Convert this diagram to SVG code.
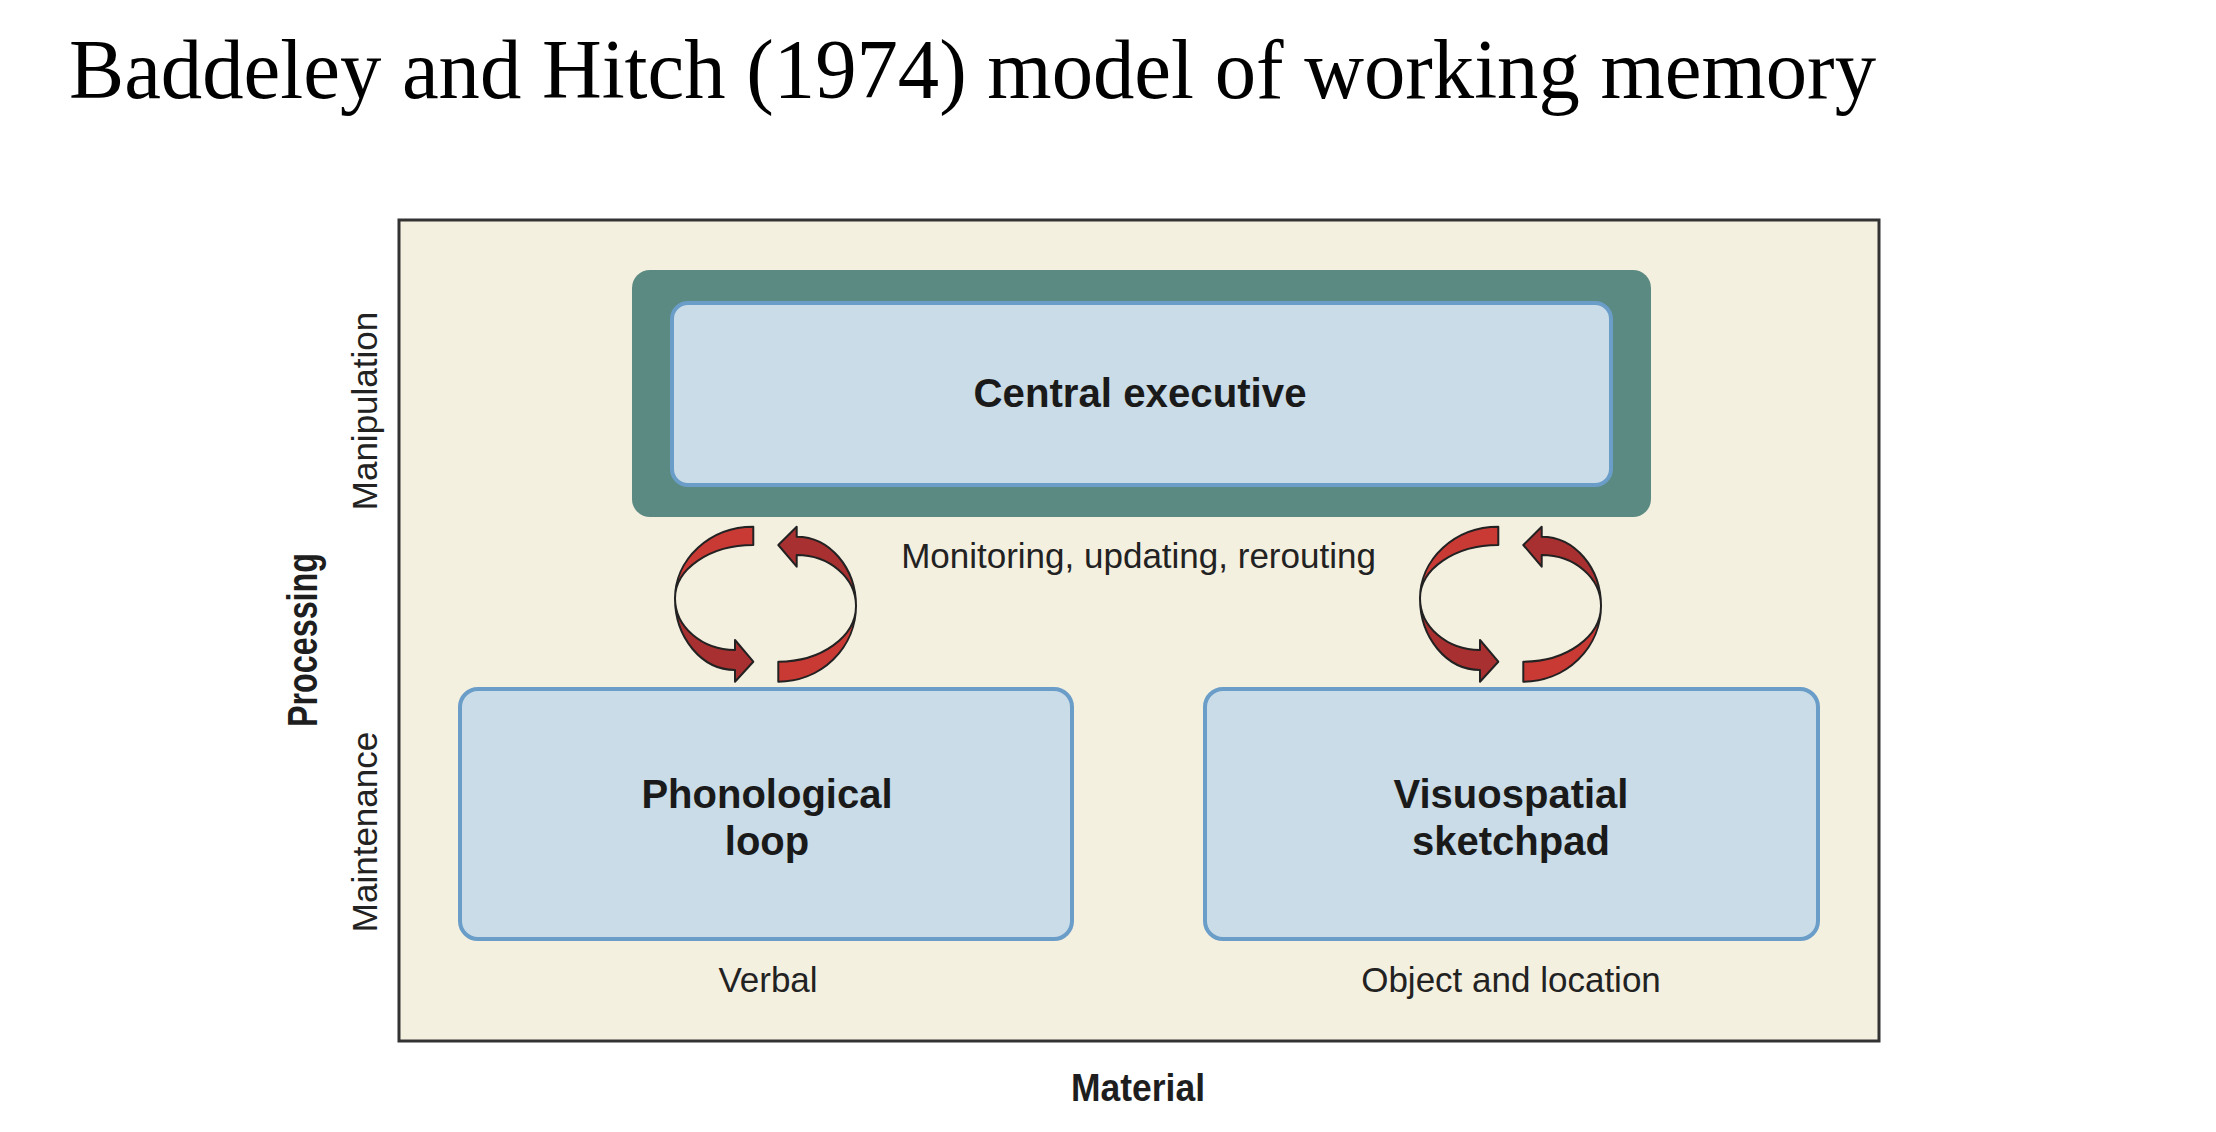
<svg xmlns="http://www.w3.org/2000/svg" width="2216" height="1132" viewBox="0 0 2216 1132">
  <style>
    .title { font-family: "Liberation Serif", "Times New Roman", serif; font-size: 84px; fill: #000; }
    .lbl { font-family: "Liberation Sans", Arial, sans-serif; font-size: 35px; fill: #222; }
    .axis { font-family: "Liberation Sans", Arial, sans-serif; font-weight: bold; fill: #1e1e1e; }
    .node-title { font-family: "Liberation Sans", Arial, sans-serif; font-weight: bold; font-size: 40px; fill: #1a1a1a; text-anchor: middle; }
    .box { fill: #c9dce7; stroke: #6b9dc9; stroke-width: 4; }
    .light { fill: #c93a35; stroke: #222; stroke-width: 2; stroke-linejoin: round; }
    .dark { fill: #a83030; stroke: #222; stroke-width: 2; stroke-linejoin: round; }
  </style>
  <defs>
    <g id="cycle">
      <path class="light" d="M753.3,526.7 L753.3,545 A78.3,53.3 0 0 0 675,598.3 A78.3,71.7 0 0 1 753.3,526.7 Z"/>
      <path class="dark" d="M675,598.3 A60,71.7 0 0 0 735,670 L735,681.7 L753.3,661.7 L735,640 L735,650 A60,51.7 0 0 1 675,598.3 Z"/>
      <path class="dark" d="M796.7,536.7 A59.3,69.3 0 0 1 856,606 A59.3,51 0 0 0 796.7,555 L796.7,566.7 L778.3,545 L796.7,526.7 Z"/>
      <path class="light" d="M856,606 A77.7,75.7 0 0 1 778.3,681.7 L778.3,661.7 A77.7,55.7 0 0 0 856,606 Z"/>
    </g>
  </defs>

  <rect x="0" y="0" width="2216" height="1132" fill="#ffffff"/>

  <text class="title" x="69" y="98" textLength="1807" lengthAdjust="spacingAndGlyphs">Baddeley and Hitch (1974) model of working memory</text>

  <g id="panel">
    <rect x="399" y="220" width="1480" height="821" fill="#f4f0e0" stroke="#333" stroke-width="3"/>
  </g>

  <g id="axis-labels">
    <text class="axis" font-size="42" transform="translate(317,727) rotate(-90)" textLength="174" lengthAdjust="spacingAndGlyphs">Processing</text>
    <text class="lbl" text-anchor="middle" transform="translate(377,411) rotate(-90)">Manipulation</text>
    <text class="lbl" text-anchor="middle" transform="translate(377,832) rotate(-90)">Maintenance</text>
    <text class="axis" font-size="38" x="1071" y="1101" textLength="134" lengthAdjust="spacingAndGlyphs">Material</text>
  </g>

  <g id="central-executive">
    <rect x="632" y="270" width="1019" height="247" rx="18" fill="#5b8a82"/>
    <rect class="box" x="672" y="303" width="939" height="182" rx="16"/>
    <text class="node-title" x="1140" y="407" font-size="38" textLength="333" lengthAdjust="spacingAndGlyphs">Central executive</text>
  </g>

  <g id="phonological-loop">
    <rect class="box" x="460" y="689" width="612" height="250" rx="18"/>
    <text class="node-title" x="767" y="808">Phonological</text>
    <text class="node-title" x="767" y="855">loop</text>
  </g>

  <g id="visuospatial-sketchpad">
    <rect class="box" x="1205" y="689" width="613" height="250" rx="18"/>
    <text class="node-title" x="1511" y="808">Visuospatial</text>
    <text class="node-title" x="1511" y="855">sketchpad</text>
  </g>

  <g id="connectors">
    <use href="#cycle"/>
    <use href="#cycle" transform="translate(745,0)"/>
  </g>

  <g id="annotations">
    <text class="lbl" x="1138.5" y="568" text-anchor="middle">Monitoring, updating, rerouting</text>
    <text class="lbl" x="768" y="992" text-anchor="middle">Verbal</text>
    <text class="lbl" x="1511" y="992" text-anchor="middle">Object and location</text>
  </g>
</svg>
